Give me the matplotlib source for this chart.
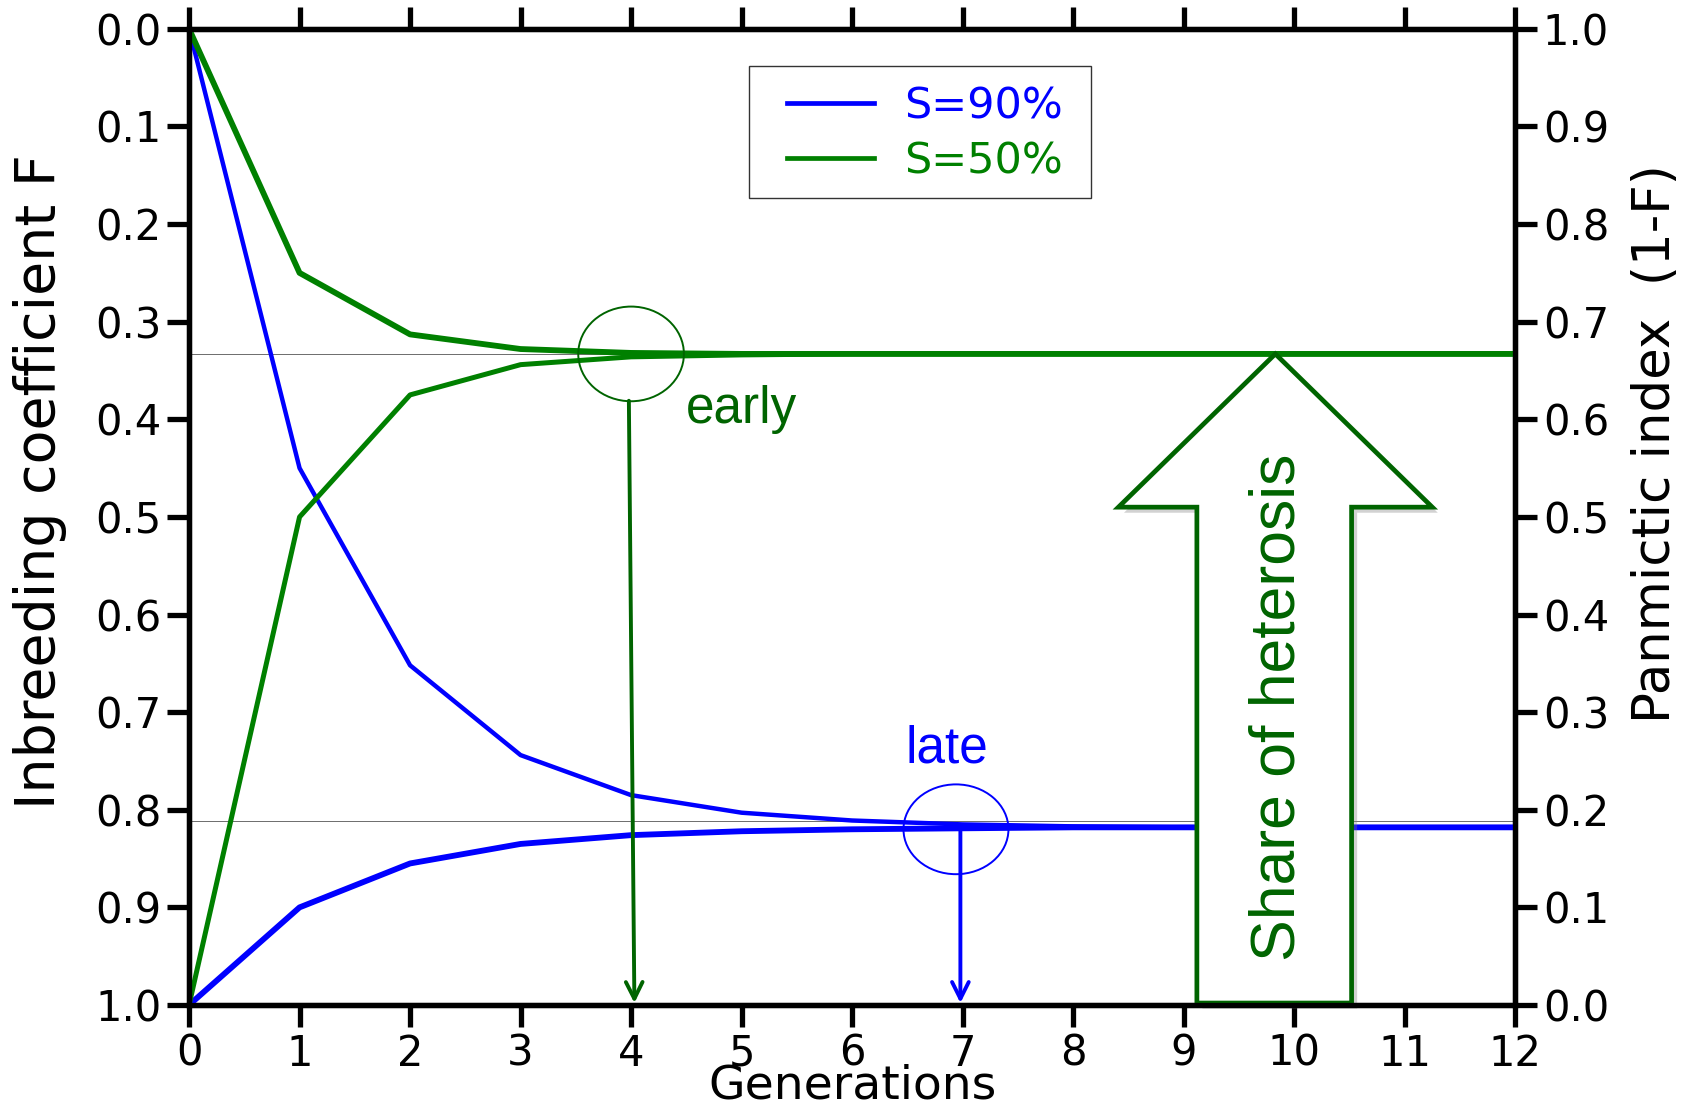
import numpy as np
import matplotlib
matplotlib.use("Agg")
import matplotlib.pyplot as plt
from matplotlib.patches import Ellipse, Polygon, Rectangle
import matplotlib.patheffects as pe

# generations and inbreeding coefficient F
gen = np.arange(13)
f90_up = [0.0, 0.45, 0.652, 0.744, 0.785, 0.803, 0.811, 0.815, 0.817, 0.818, 0.818, 0.818, 0.818]
f90_dn = [1.0, 0.90, 0.855, 0.835, 0.826, 0.822, 0.820, 0.819, 0.818, 0.818, 0.818, 0.818, 0.818]
f50_up = [0.0, 0.25, 0.313, 0.328, 0.332, 0.333, 0.333, 0.333, 0.333, 0.333, 0.333, 0.333, 0.333]
f50_dn = [1.0, 0.50, 0.375, 0.344, 0.336, 0.334, 0.333, 0.333, 0.333, 0.333, 0.333, 0.333, 0.333]
equil = [0.333, 0.812]    # thin reference lines
labels = ["S=90%", "S=50%"]
yticks = np.round(np.arange(0, 1.01, 0.1), 1)

blue = "#0000ff"
green = "#008000"
dgreen = "#006400"
arial = "Liberation Sans"

plt.rcParams['font.family'] = ['DejaVu Sans']

fig = plt.figure(figsize=(16.91, 11.10), dpi=100)
ax = fig.add_axes([0.1118, 0.0946, 0.7842, 0.8794])

for v in equil:
    ax.plot([0, 12], [v, v], color="#555555", lw=0.6, zorder=1)

ax.plot(gen, f90_up, color=blue, lw=3.2, label=labels[0], zorder=3)
ax.plot(gen, f90_dn, color=blue, lw=4.2, zorder=3)
ax.plot(gen, f50_up, color=green, lw=4.2, label=labels[1], zorder=3)
ax.plot(gen, f50_dn, color=green, lw=3.6, zorder=3)

ax.set_xlim(0, 12)
ax.set_ylim(1, 0)
ax.set_xticks(gen)
ax.set_yticks(yticks)
ax.set_yticklabels([f"{t:.1f}" for t in yticks])
for s in ax.spines.values():
    s.set_linewidth(3.8)
ax.tick_params(axis='both', which='major', direction='out', length=16, width=3.8,
               labelsize=30, pad=4)
ax.tick_params(axis='x', top=True, labeltop=False)
ax.set_xlabel("Generations", fontsize=34, labelpad=-8)
ax.set_ylabel("Inbreeding coefficient F", fontsize=40)
ax.yaxis.set_label_coords(-0.092, 0.536)

ax2 = ax.twinx()
ax2.set_ylim(0, 1)
ax2.set_yticks(yticks)
ax2.set_yticklabels([f"{t:.1f}" for t in yticks])
ax2.tick_params(axis='y', direction='out', length=16, width=3.8, labelsize=30, pad=4)
for s in ax2.spines.values():
    s.set_linewidth(3.8)
ax2.set_ylabel("Panmictic index  (1-F)", fontsize=37)
ax2.yaxis.set_label_coords(1.087, 0.575)

# legend, frame drawn separately so the padding matches
leg = ax.legend(loc='upper left', bbox_to_anchor=(0.4366, 0.962), fontsize=31,
                frameon=False, handlelength=2.0, handletextpad=0.7,
                labelspacing=0.3, borderpad=0.45, borderaxespad=0)
for t, c in zip(leg.get_texts(), [blue, green]):
    t.set_color(c)
for h in leg.get_lines():
    h.set_linewidth(3.4)
ax.add_patch(Rectangle((0.422, 0.8265), 0.2585, 0.1359, transform=ax.transAxes,
                       fill=False, ec="#333333", lw=1.0, zorder=6))

# circles and arrows marking the equilibrium
ax.add_patch(Ellipse((4.0, 0.333), 0.956, 0.097, fill=False, ec=dgreen, lw=1.4, zorder=4))
ax.add_patch(Ellipse((6.94, 0.82), 0.95, 0.092, fill=False, ec=blue, lw=1.4, zorder=4))
ax.annotate("", xy=(4.03, 0.998), xytext=(3.98, 0.381),
            arrowprops=dict(arrowstyle='->', color=dgreen, lw=2.8, mutation_scale=30,
                            shrinkA=0, shrinkB=0), zorder=4)
ax.annotate("", xy=(6.98, 0.998), xytext=(6.98, 0.818),
            arrowprops=dict(arrowstyle='->', color=blue, lw=2.8, mutation_scale=30,
                            shrinkA=0, shrinkB=0), zorder=4)
ax.text(4.5, 0.39, "early", color=dgreen, fontsize=37, family=arial, va='center', ha='left')
ax.text(6.86, 0.738, "late", color=blue, fontsize=37, family=arial, va='center', ha='center')

# big hollow arrow
arrow_pts = [(9.83, 0.333), (11.25, 0.49), (10.52, 0.49), (10.52, 0.998),
             (9.12, 0.998), (9.12, 0.49), (8.41, 0.49)]
big = Polygon(arrow_pts, closed=True, fc='white', ec=dgreen, lw=3.4, zorder=5,
              clip_on=False, joinstyle='miter')
big.set_path_effects([pe.SimplePatchShadow(offset=(4, -4), shadow_rgbFace='gray', alpha=0.35),
                      pe.Normal()])
ax.add_patch(big)
ax.text(9.85, 0.695, "Share of heterosis", rotation=90, color=dgreen, fontsize=45,
        family=arial, ha='center', va='center', zorder=6)

fig.savefig("out.png", dpi=100)
